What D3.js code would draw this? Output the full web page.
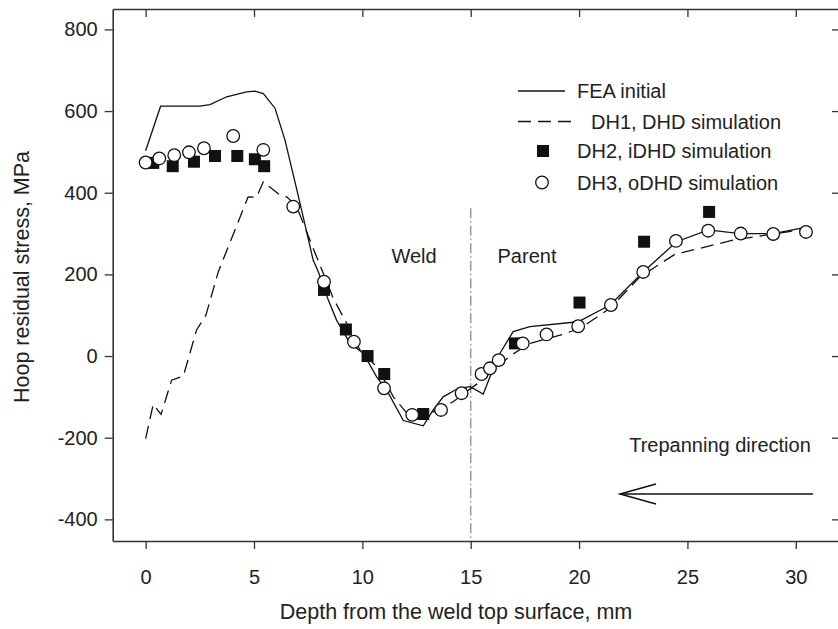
<!DOCTYPE html>
<html>
<head>
<meta charset="utf-8">
<script src="https://cdn.jsdelivr.net/npm/d3@7"></script>
<style>
  html, body { margin: 0; padding: 0; background: #fff; }
  svg { display: block; }
  text { font-family: "Liberation Sans", Arial, sans-serif; fill: #222; }
</style>
</head>
<body>
<svg id="chart" width="838" height="629"></svg>
<script>
// ---------- data ----------
const feaX = [0, 0.69, 2.5, 2.97, 3.74, 4.66, 5.04, 5.43, 5.97, 6.43, 7.12, 7.73, 7.97, 8.43, 8.81, 9.43, 10.04, 10.66, 11.2, 11.89, 12.81, 13.27, 13.73, 14.43, 14.97, 15.58, 15.89, 16.35, 16.96, 17.73, 19.96, 21.43, 22.96, 24.5, 25.96, 27.42, 28.96, 30.5];
const feaY = [503, 612, 612, 616, 635, 647, 649, 643, 607, 529, 375, 235, 206, 137, 88, 31, 7, -51, -91, -158, -171, -132, -100, -79, -75, -93, -51, 7, 60, 72, 84, 125, 206, 280, 309, 300, 300, 316];

const dh1X = [0, 0.35, 0.71, 1.2, 1.74, 2.35, 2.78, 3.35, 4.73, 5.12, 5.43, 6.2, 6.51, 6.97, 7.58, 8.2, 8.66, 9.2, 9.89, 10.73, 11.43, 12.2, 12.81, 13.5, 14.19, 14.81, 15.43, 16.81, 17.73, 19.12, 20.05, 21.43, 22.81, 24.5, 24.8, 27.12, 30.19, 30.47];
const dh1Y = [-202, -118, -143, -59, -49, 64, 100, 206, 390, 389, 427, 394, 390, 366, 284, 202, 141, 88, 15, -30, -100, -149, -149, -130, -112, -87, -63, 0, 31, 51, 68, 117, 194, 252, 254, 284, 309, 311];

const dh2X = [0.35, 1.25, 2.23, 3.2, 4.23, 5.04, 5.47, 8.23, 9.24, 10.24, 11.01, 12.81, 17.04, 20.02, 23.0, 26.0];
const dh2Y = [473, 465, 476, 490, 490, 482, 465, 162, 65, 0, -44, -142, 31, 131, 280, 353];

const dh3X = [0, 0.63, 1.32, 2.0, 2.69, 4.04, 5.43, 6.81, 8.23, 9.61, 11.0, 12.3, 13.63, 14.58, 15.5, 15.89, 16.29, 17.4, 18.5, 19.96, 21.47, 22.96, 24.47, 25.96, 27.46, 28.96, 30.47];
const dh3Y = [474, 484, 492, 499, 509, 539, 505, 366, 182, 35, -79, -144, -132, -91, -44, -30, -10, 31, 53, 73, 125, 206, 282, 307, 300, 299, 304];

const xTicks = [0, 5, 10, 15, 20, 25, 30];
const yTicks = [-400, -200, 0, 200, 400, 600, 800];
const legendLabels = ["FEA initial", "DH1, DHD simulation", "DH2, iDHD simulation", "DH3, oDHD simulation"];
const weldBoundary = 15;
const regionLabels = ["Weld", "Parent"];
const arrowLabel = "Trepanning direction";
const xTitle = "Depth from the weld top surface, mm";
const yTitle = "Hoop residual stress, MPa";

// ---------- chart ----------
const svg = d3.select("#chart");
const pLeft = 112.7, pRight = 840, pTop = 9, pBottom = 541;

const x = d3.scaleLinear().domain([-1.52, 32.04]).range([pLeft, pRight]);
const y = d3.scaleLinear().domain([-453, 850]).range([pBottom, pTop]);

const fs = "20px";
const fmt = d => String(d); // plain hyphen-minus like the reference

function styleAxis(g) {
  g.selectAll(".domain").attr("stroke", "#333").attr("stroke-width", 1.6);
  g.selectAll(".tick line").attr("stroke", "#333").attr("stroke-width", 1.3);
  g.selectAll(".tick text").style("font-size", fs).attr("fill", "#222")
    .style("font-family", "'Liberation Sans', Arial, sans-serif");
}

svg.append("g").attr("transform", `translate(0,${pBottom})`)
  .call(d3.axisBottom(x).tickValues(xTicks).tickSize(8).tickSizeOuter(0).tickPadding(21).tickFormat(fmt))
  .call(styleAxis);

svg.append("g").attr("transform", `translate(0,${pTop})`)
  .call(d3.axisTop(x).tickValues(xTicks).tickSize(-8).tickSizeOuter(0).tickFormat(""))
  .call(styleAxis);

svg.append("g").attr("transform", `translate(${pLeft},0)`)
  .call(d3.axisLeft(y).tickValues(yTicks).tickSize(8).tickSizeOuter(0).tickPadding(7).tickFormat(fmt))
  .call(styleAxis);

svg.append("g").attr("transform", `translate(${pRight},0)`)
  .call(d3.axisRight(y).tickValues(yTicks).tickSize(-8).tickSizeOuter(0).tickFormat(""))
  .call(styleAxis);

// weld boundary dash-dot line
svg.append("line")
  .attr("x1", x(weldBoundary)).attr("x2", x(weldBoundary))
  .attr("y1", y(362)).attr("y2", pBottom)
  .attr("stroke", "#999").attr("stroke-width", 1.5)
  .attr("stroke-dasharray", "10,3,1.5,3");

const line = d3.line().x(d => x(d[0])).y(d => y(d[1]));

svg.append("path")
  .datum(d3.zip(feaX, feaY))
  .attr("d", line).attr("fill", "none").attr("stroke", "#111").attr("stroke-width", 1.3);

svg.append("path")
  .datum(d3.zip(dh1X, dh1Y))
  .attr("d", line).attr("fill", "none").attr("stroke", "#111").attr("stroke-width", 1.3)
  .attr("stroke-dasharray", "13,7");

const sq = 12;
svg.append("g").selectAll("rect")
  .data(d3.zip(dh2X, dh2Y)).join("rect")
  .attr("x", d => x(d[0]) - sq / 2).attr("y", d => y(d[1]) - sq / 2)
  .attr("width", sq).attr("height", sq).attr("fill", "#111");

svg.append("g").selectAll("circle")
  .data(d3.zip(dh3X, dh3Y)).join("circle")
  .attr("cx", d => x(d[0])).attr("cy", d => y(d[1]))
  .attr("r", 6.3).attr("fill", "#fff").attr("stroke", "#111").attr("stroke-width", 1.3);

// legend
const lg = svg.append("g");
lg.append("line").attr("x1", 518).attr("x2", 565).attr("y1", 91).attr("y2", 91)
  .attr("stroke", "#111").attr("stroke-width", 1.3);
lg.append("text").attr("x", 577).attr("y", 98).style("font-size", fs).text(legendLabels[0]);
lg.append("line").attr("x1", 518).attr("x2", 571).attr("y1", 121.5).attr("y2", 121.5)
  .attr("stroke", "#111").attr("stroke-width", 1.3).attr("stroke-dasharray", "13,7");
lg.append("text").attr("x", 591).attr("y", 128.5).style("font-size", fs).text(legendLabels[1]);
lg.append("rect").attr("x", 537).attr("y", 145).attr("width", 12).attr("height", 12).attr("fill", "#111");
lg.append("text").attr("x", 577).attr("y", 158).style("font-size", fs).text(legendLabels[2]);
lg.append("circle").attr("cx", 542).attr("cy", 182.5).attr("r", 6.3)
  .attr("fill", "#fff").attr("stroke", "#111").attr("stroke-width", 1.3);
lg.append("text").attr("x", 577).attr("y", 189.5).style("font-size", fs).text(legendLabels[3]);

// region labels
svg.append("text").attr("x", 414).attr("y", 263).attr("text-anchor", "middle").style("font-size", fs).text(regionLabels[0]);
svg.append("text").attr("x", 527).attr("y", 263).attr("text-anchor", "middle").style("font-size", fs).text(regionLabels[1]);

// trepanning arrow
svg.append("text").attr("x", 720).attr("y", 452).attr("text-anchor", "middle").style("font-size", fs).text(arrowLabel);
const ay = 494, ax0 = 813, ax1 = 620;
svg.append("line").attr("x1", ax0).attr("x2", ax1).attr("y1", ay).attr("y2", ay)
  .attr("stroke", "#111").attr("stroke-width", 1.5);
svg.append("path").attr("d", `M${ax1 + 36},${ay - 10}L${ax1},${ay}L${ax1 + 36},${ay + 10}`)
  .attr("fill", "none").attr("stroke", "#111").attr("stroke-width", 1.5);

// titles
svg.append("text").attr("x", 456).attr("y", 619).attr("text-anchor", "middle")
  .style("font-size", "21.5px").text(xTitle);
svg.append("text").attr("transform", `translate(29,277) rotate(-90)`).attr("text-anchor", "middle")
  .style("font-size", "21.5px").text(yTitle);
</script>
</body>
</html>
